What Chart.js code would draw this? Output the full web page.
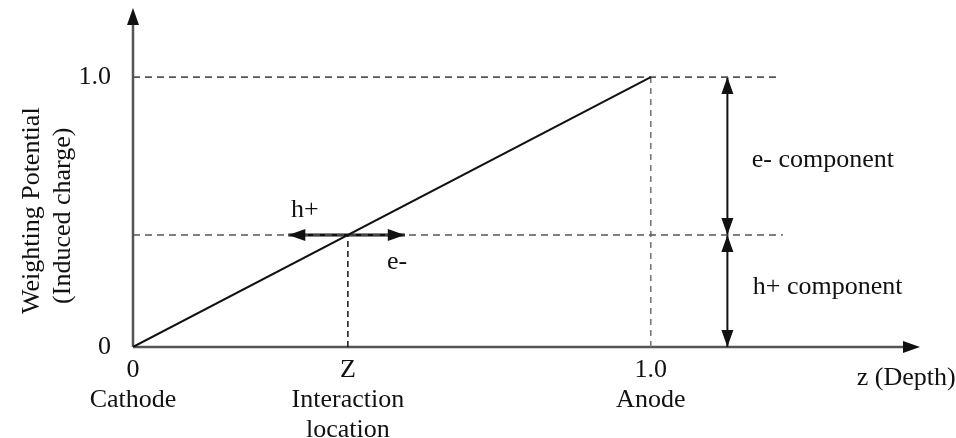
<!DOCTYPE html>
<html>
<head>
<meta charset="utf-8">
<script src="https://cdn.jsdelivr.net/npm/chart.js@4/dist/chart.umd.min.js"></script>
<style>
  html, body { margin: 0; padding: 0; background: #fff; }
  #wrap { width: 956px; height: 438px; }
</style>
</head>
<body>
<div id="wrap"><canvas id="potentialChart" width="956" height="438"></canvas></div>
<script>
// weighting potential rises linearly from the cathode (0) to the anode (1.0)
const depth = [0, 1.0];
const potential = [0, 1.0];

// interaction depth Z and the weighting potential there
const interactionZ = 0.415;
const interactionPotential = 0.415;

// where the h+ and e- drift arrows stop
const holeDriftEnd = 0.30;
const electronDriftEnd = 0.525;

// depth of the component brackets
const componentDepth = 1.148;

// ends of the dashed guides
const topGuideEnd = 1.245;
const midGuideEnd = 1.255;

// axis extents (arrow tips)
const depthMax = 1.52;
const potentialMax = 1.256;

const xTickValues = [0, interactionZ, 1.0];
const xTickLabels = [['0', 'Cathode'], ['Z', 'Interaction', 'location'], ['1.0', 'Anode']];
const yTickValues = [0, 1.0];
const yTickLabels = ['0', '1.0'];

const FONT = { family: '"Liberation Serif", "Times New Roman", serif', size: 26, lineHeight: 1.15 };
const INK = '#111';

function seg(x0, y0, x1, y1) {
  return [{ x: x0, y: y0 }, { x: x1, y: y1 }];
}

function arrowHead(ctx, tip, from, len, half) {
  const a = Math.atan2(tip.y - from.y, tip.x - from.x);
  ctx.beginPath();
  ctx.moveTo(tip.x, tip.y);
  ctx.lineTo(tip.x - len * Math.cos(a) + half * Math.sin(a), tip.y - len * Math.sin(a) - half * Math.cos(a));
  ctx.lineTo(tip.x - len * Math.cos(a) - half * Math.sin(a), tip.y - len * Math.sin(a) + half * Math.cos(a));
  ctx.closePath();
  ctx.fill();
}

// plain axes with arrow tips, drawn under the data
const axesPlugin = {
  id: 'arrowAxes',
  beforeDatasetsDraw(chart) {
    const { ctx, scales: { x, y } } = chart;
    const ox = x.getPixelForValue(0), oy = y.getPixelForValue(0);
    const xEnd = { x: x.getPixelForValue(depthMax), y: oy };
    const yEnd = { x: ox, y: y.getPixelForValue(potentialMax) };
    ctx.save();
    ctx.strokeStyle = '#555';
    ctx.fillStyle = INK;
    ctx.lineWidth = 2.5;
    ctx.beginPath();
    ctx.moveTo(ox, oy);
    ctx.lineTo(xEnd.x - 10, oy);
    ctx.moveTo(ox, oy);
    ctx.lineTo(ox, yEnd.y + 10);
    ctx.stroke();
    arrowHead(ctx, xEnd, { x: ox, y: oy }, 17, 6);
    arrowHead(ctx, yEnd, { x: ox, y: oy }, 17, 6);
    ctx.restore();
  }
};

// arrowheads on datasets that ask for them
const arrowPlugin = {
  id: 'segmentArrows',
  afterDatasetsDraw(chart) {
    const ctx = chart.ctx;
    chart.data.datasets.forEach((ds, i) => {
      if (!ds.arrows) return;
      const pts = chart.getDatasetMeta(i).data;
      const a = { x: pts[0].x, y: pts[0].y };
      const b = { x: pts[1].x, y: pts[1].y };
      ctx.save();
      ctx.fillStyle = INK;
      arrowHead(ctx, b, a, 17, 6);
      if (ds.arrows === 'both') arrowHead(ctx, a, b, 17, 6);
      ctx.restore();
    });
  }
};

// free text: axis title and the annotations
const textPlugin = {
  id: 'notes',
  afterDraw(chart) {
    const { ctx, scales: { x, y }, chartArea } = chart;
    ctx.save();
    ctx.fillStyle = INK;
    ctx.font = `${FONT.size}px ${FONT.family}`;
    ctx.textBaseline = 'middle';

    ctx.textAlign = 'center';
    ctx.fillText('h+', x.getPixelForValue(0.332), y.getPixelForValue(0.507));
    ctx.fillText('e-', x.getPixelForValue(0.51), y.getPixelForValue(0.315));

    ctx.textAlign = 'left';
    ctx.fillText('e- component', x.getPixelForValue(1.195), y.getPixelForValue(0.693));
    ctx.fillText('h+ component', x.getPixelForValue(1.197), y.getPixelForValue(0.222));
    ctx.fillText('z (Depth)', x.getPixelForValue(1.398), y.getPixelForValue(-0.115));

    // rotated y-axis title, two lines
    const cy = y.getPixelForValue(0.505);
    ctx.textAlign = 'center';
    ctx.translate(chartArea.left - 101, cy);
    ctx.rotate(-Math.PI / 2);
    ctx.fillText('Weighting Potential', 0, 0);
    ctx.fillText('(Induced charge)', -5, 31);
    ctx.restore();
  }
};

const dashed = (color, dash) => ({
  borderColor: color, borderWidth: 1.6, borderDash: dash, pointRadius: 0, fill: false
});

new Chart(document.getElementById('potentialChart'), {
  type: 'scatter',
  data: {
    datasets: [
      {
        data: depth.map((d, i) => ({ x: d, y: potential[i] })),
        showLine: true, borderColor: INK, borderWidth: 2, pointRadius: 0
      },
      { data: seg(0, 1.0, topGuideEnd, 1.0), showLine: true, ...dashed('#555', [7, 5]) },
      { data: seg(0, interactionPotential, midGuideEnd, interactionPotential), showLine: true, ...dashed('#555', [7, 5]) },
      { data: seg(interactionZ, 0, interactionZ, interactionPotential), showLine: true, ...dashed('#222', [6, 4]) },
      { data: seg(1.0, 0, 1.0, 1.0), showLine: true, ...dashed('#777', [6, 5]) },
      {
        data: seg(interactionZ, interactionPotential, holeDriftEnd, interactionPotential),
        showLine: true, borderColor: INK, borderWidth: 3, pointRadius: 0, arrows: 'end'
      },
      {
        data: seg(interactionZ, interactionPotential, electronDriftEnd, interactionPotential),
        showLine: true, borderColor: INK, borderWidth: 3, pointRadius: 0, arrows: 'end'
      },
      {
        data: seg(componentDepth, 0, componentDepth, interactionPotential),
        showLine: true, borderColor: INK, borderWidth: 2, pointRadius: 0, arrows: 'both'
      },
      {
        data: seg(componentDepth, interactionPotential, componentDepth, 1.0),
        showLine: true, borderColor: INK, borderWidth: 2, pointRadius: 0, arrows: 'both'
      }
    ]
  },
  options: {
    responsive: false,
    devicePixelRatio: 1,
    animation: false,
    layout: { padding: { top: 8, right: 36, left: 0, bottom: 0 } },
    plugins: { legend: { display: false }, tooltip: { enabled: false } },
    scales: {
      x: {
        type: 'linear', min: 0, max: depthMax,
        grid: { display: false, drawTicks: false },
        border: { display: false },
        afterBuildTicks: s => { s.ticks = xTickValues.map(v => ({ value: v })); },
        afterFit: s => { s.height = 91; },
        ticks: {
          autoSkip: false, maxRotation: 0, padding: 8, color: INK, font: FONT,
          callback: (v, i) => xTickLabels[i]
        }
      },
      y: {
        type: 'linear', min: 0, max: potentialMax,
        grid: { display: false, drawTicks: false },
        border: { display: false },
        afterBuildTicks: s => { s.ticks = yTickValues.map(v => ({ value: v })); },
        // the top tick sits well below the arrow tip, so no label overhang is needed
        afterFit: s => { s.width = 133; s.paddingTop = 0; s.paddingBottom = 0; },
        ticks: {
          padding: 22, color: INK, font: FONT,
          callback: (v, i) => yTickLabels[i]
        }
      }
    }
  },
  plugins: [axesPlugin, arrowPlugin, textPlugin]
});
</script>
</body>
</html>
